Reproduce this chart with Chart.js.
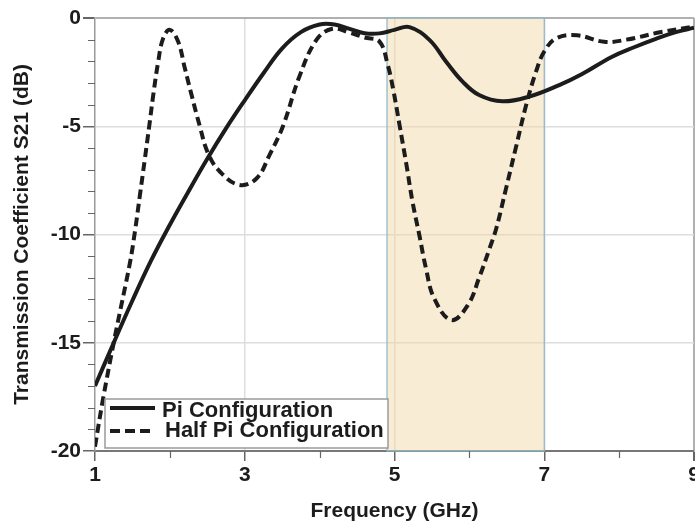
<!DOCTYPE html>
<html>
<head>
<meta charset="utf-8">
<script src="https://cdn.jsdelivr.net/npm/chart.js@4.4.1/dist/chart.umd.min.js"></script>
<style>
  html, body { margin: 0; padding: 0; background: #fff; }
  #wrap { width: 695px; height: 527px; }
</style>
</head>
<body>
<div id="wrap"><canvas id="s21" width="695" height="527"></canvas></div>
<script>
// ---- data ----
const piFreq = [1.0, 1.25, 1.5, 1.75, 2.0, 2.25, 2.5, 2.75, 3.0, 3.25, 3.5, 3.75, 4.0, 4.2, 4.4, 4.6, 4.8, 5.0, 5.2,
  5.47, 5.69, 5.91, 6.13, 6.44, 6.8, 7.2, 7.5, 7.9, 8.2, 8.5, 8.77, 9.0];
const piS21 = [-17.0, -15.0, -13.05, -11.2, -9.55, -8.0, -6.5, -5.1, -3.8, -2.55, -1.4, -0.65, -0.3, -0.3, -0.5, -0.7, -0.71, -0.55, -0.42,
  -1.02, -2.02, -2.94, -3.56, -3.85, -3.63, -3.1, -2.6, -1.8, -1.35, -0.95, -0.64, -0.45];

const halfPiFreq = [1.0, 1.107, 1.267, 1.467, 1.533, 1.6, 1.667, 1.724, 1.778, 1.844, 1.91, 2.0, 2.11, 2.2, 2.29, 2.4, 2.51,
  2.67, 2.93, 3.16, 3.33, 3.51, 3.73, 3.96, 4.17, 4.4, 4.6, 4.8, 4.91, 4.98, 5.07, 5.16, 5.24, 5.33, 5.42, 5.53, 5.76,
  5.98, 6.13, 6.27, 6.36, 6.49, 6.62, 6.76, 6.89, 7.0, 7.16, 7.44, 7.8, 8.1, 8.56, 9.0];
const halfPiS21 = [-19.8, -17.6, -14.7, -11.3, -9.87, -8.18, -6.48, -5.0, -3.56, -2.02, -0.94, -0.55, -1.09, -2.32, -3.56, -5.0, -6.25,
  -7.1, -7.71, -7.4, -6.33, -5.0, -2.7, -1.0, -0.5, -0.68, -0.9, -1.09, -2.17, -3.25, -5.0, -6.79, -8.48, -10.0, -11.56, -12.95, -13.95,
  -13.26, -12.0, -10.64, -9.71, -7.87, -6.0, -4.0, -2.48, -1.55, -0.94, -0.8, -1.1, -1.0, -0.65, -0.4];

const freqTicks = [1, 3, 5, 7, 9];
const freqMinor = [2, 4, 6, 8];
const dbTicks = [-20, -15, -10, -5, 0];
const dbMinor = [-19, -18, -17, -16, -14, -13, -12, -11, -9, -8, -7, -6, -4, -3, -2, -1];
const bandGHz = [4.9, 7.0];

const seriesNames = ['Pi Configuration', 'Half Pi Configuration'];

const FONT = '"Liberation Sans", Arial, sans-serif';
const INK = '#1c1c1c';

const toPoints = (xs, ys) => xs.map((x, i) => ({ x, y: ys[i] }));

// shaded band behind the curves
const bandPlugin = {
  id: 'band',
  beforeDatasetsDraw(chart) {
    const { ctx, chartArea, scales } = chart;
    const x0 = scales.x.getPixelForValue(bandGHz[0]);
    const x1 = scales.x.getPixelForValue(bandGHz[1]);
    ctx.save();
    ctx.fillStyle = 'rgba(240, 214, 160, 0.45)';
    ctx.fillRect(x0, chartArea.top, x1 - x0, chartArea.bottom - chartArea.top);
    ctx.strokeStyle = '#8db5c9';
    ctx.lineWidth = 1.2;
    ctx.strokeRect(x0, chartArea.top, x1 - x0, chartArea.bottom - chartArea.top);
    ctx.restore();
  },
};

// short minor ticks outside the plot
const minorTickPlugin = {
  id: 'minorTicks',
  afterDraw(chart) {
    const { ctx, chartArea, scales } = chart;
    ctx.save();
    ctx.strokeStyle = '#666';
    ctx.lineWidth = 1.2;
    ctx.beginPath();
    dbMinor.forEach(v => {
      const y = Math.round(scales.y.getPixelForValue(v)) + 0.5;
      ctx.moveTo(chartArea.left - 7, y);
      ctx.lineTo(chartArea.left, y);
    });
    freqMinor.forEach(v => {
      const x = Math.round(scales.x.getPixelForValue(v)) + 0.5;
      ctx.moveTo(x, chartArea.bottom);
      ctx.lineTo(x, chartArea.bottom + 7);
    });
    ctx.stroke();
    ctx.restore();
  },
};

// boxed legend in the lower-left corner of the plot
const boxLegendPlugin = {
  id: 'boxLegend',
  afterDatasetsDraw(chart) {
    const { ctx, chartArea } = chart;
    const left = chartArea.left + 10, top = chartArea.bottom - 52;
    const w = 283, h = 49;
    ctx.save();
    ctx.fillStyle = '#fff';
    ctx.fillRect(left, top, w, h);
    ctx.strokeStyle = '#9a9a9a';
    ctx.lineWidth = 1.5;
    ctx.strokeRect(left, top, w, h);

    ctx.strokeStyle = INK;
    ctx.lineWidth = 4;
    ctx.beginPath();
    ctx.moveTo(left + 5, top + 9);
    ctx.lineTo(left + 50, top + 9);
    ctx.stroke();

    ctx.setLineDash([10, 5]);
    ctx.beginPath();
    ctx.moveTo(left + 5, top + 32);
    ctx.lineTo(left + 47, top + 32);
    ctx.stroke();
    ctx.setLineDash([]);

    ctx.fillStyle = INK;
    ctx.font = 'bold 22px ' + FONT;
    ctx.textBaseline = 'alphabetic';
    ctx.fillText(seriesNames[0], left + 57, top + 18);
    ctx.fillText(seriesNames[1], left + 60, top + 38);
    ctx.restore();
  },
};

new Chart(document.getElementById('s21'), {
  type: 'line',
  data: {
    datasets: [
      {
        label: seriesNames[0],
        data: toPoints(piFreq, piS21),
        borderColor: INK,
        borderWidth: 4,
        pointRadius: 0,
        tension: 0.4,
      },
      {
        label: seriesNames[1],
        data: toPoints(halfPiFreq, halfPiS21),
        borderColor: INK,
        borderWidth: 4,
        borderDash: [9, 5],
        pointRadius: 0,
        tension: 0.4,
      },
    ],
  },
  options: {
    responsive: false,
    animation: false,
    devicePixelRatio: 1,
    layout: { padding: { top: 18, right: 1, left: 0, bottom: 0 } },
    plugins: {
      legend: { display: false },
      tooltip: { enabled: false },
    },
    scales: {
      x: {
        type: 'linear',
        min: 1,
        max: 9,
        afterBuildTicks: (s) => { s.ticks = freqTicks.map(v => ({ value: v })); },
        afterFit: (s) => { s.height = 76; s.paddingLeft = 0; s.paddingRight = 0; },
        grid: {
          color: (c) => c.tick.value === 1 ? 'rgba(0,0,0,0)' : c.tick.value === 9 ? '#b0b0b0' : '#dedede',
          lineWidth: (c) => c.tick.value === 9 ? 2 : 1.5,
          tickColor: '#666',
          tickLength: 10,
        },
        border: { color: '#777', width: 2 },
        ticks: {
          color: INK,
          padding: 2,
          maxRotation: 0,
          font: { family: FONT, size: 21, weight: 'bold' },
        },
        title: {
          display: true,
          text: 'Frequency (GHz)',
          color: INK,
          padding: { top: 4, bottom: 3 },
          font: { family: FONT, size: 21, weight: 'bold' },
        },
      },
      y: {
        min: -20,
        max: 0,
        afterBuildTicks: (s) => { s.ticks = dbTicks.map(v => ({ value: v })); },
        afterFit: (s) => { s.width = 95; },
        grid: {
          color: (c) => c.tick.value === 0 ? '#b0b0b0' : c.tick.value === -20 ? 'rgba(0,0,0,0)' : '#dedede',
          lineWidth: (c) => c.tick.value === 0 ? 2 : 1.5,
          tickColor: '#666',
          tickLength: 12,
        },
        border: { color: '#999', width: 1.5 },
        ticks: {
          color: INK,
          padding: 2,
          font: { family: FONT, size: 21, weight: 'bold' },
        },
        title: {
          display: true,
          text: 'Transmission Coefficient S21 (dB)',
          color: INK,
          padding: { top: 10, bottom: 0 },
          font: { family: FONT, size: 21, weight: 'bold' },
        },
      },
    },
  },
  plugins: [bandPlugin, minorTickPlugin, boxLegendPlugin],
});
</script>
</body>
</html>
